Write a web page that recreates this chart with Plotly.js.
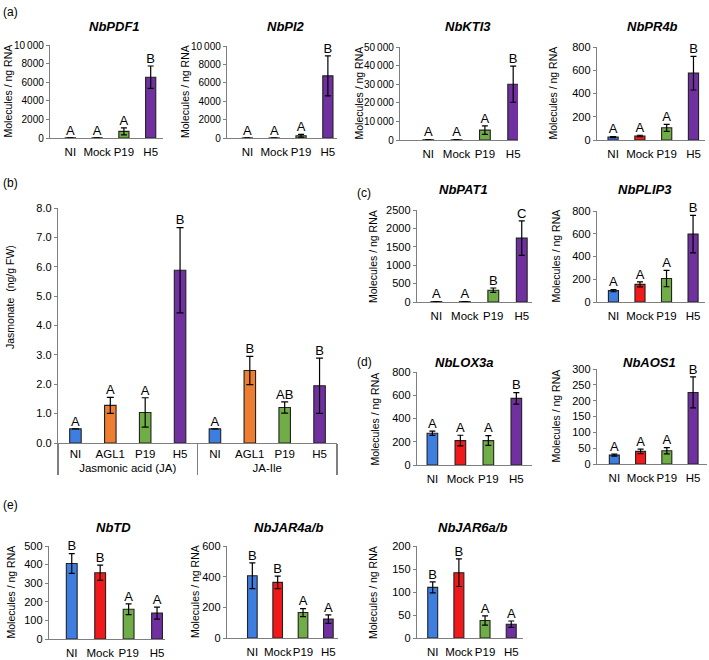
<!DOCTYPE html>
<html><head><meta charset="utf-8">
<script src="https://cdn.plot.ly/plotly-3.0.1.min.js"></script>
<style>html,body{margin:0;padding:0;background:#fff}#chart{width:709px;height:660px}</style>
</head><body><div id="chart"></div>
<script>
// ---------- DATA ----------
const treatments = ['NI', 'Mock', 'P19', 'H5'];
const treatColors = ['#3d7ee0', '#f01a1a', '#70ad47', '#7030a0'];

// (a)
const pdf1Mean = [20, 20, 710, 6540];
const pdf1Err = [5, 5, 370, 1200];
const pdf1Sig = ['A', 'A', 'A', 'B'];
const pi2Mean = [10, 10, 250, 6750];
const pi2Err = [5, 5, 150, 2170];
const pi2Sig = ['A', 'A', 'A', 'B'];
const kti3Mean = [100, 100, 5300, 30000];
const kti3Err = [50, 50, 2300, 9700];
const kti3Sig = ['A', 'A', 'A', 'B'];
const pr4bMean = [25, 35, 105, 575];
const pr4bErr = [5, 6, 30, 145];
const pr4bSig = ['A', 'A', 'A', 'B'];

// (b)
const jaCompounds = ['Jasmonic acid (JA)', 'Jasmonic acid (JA)', 'Jasmonic acid (JA)', 'Jasmonic acid (JA)',
                     'JA-Ile', 'JA-Ile', 'JA-Ile', 'JA-Ile'];
const jaTreatments = ['NI', 'AGL1', 'P19', 'H5', 'NI', 'AGL1', 'P19', 'H5'];
const jaColors = ['#3d7ee0', '#ed7d31', '#70ad47', '#7030a0', '#3d7ee0', '#ed7d31', '#70ad47', '#7030a0'];
const jaMean = [0.48, 1.28, 1.04, 5.88, 0.48, 2.47, 1.21, 1.95];
const jaErr = [0, 0.27, 0.5, 1.45, 0, 0.48, 0.19, 0.94];
const jaSig = ['A', 'A', 'A', 'B', 'A', 'B', 'AB', 'B'];

// (c)
const pat1Mean = [10, 10, 320, 1735];
const pat1Err = [3, 3, 60, 470];
const pat1Sig = ['A', 'A', 'B', 'C'];
const plip3Mean = [100, 155, 206, 597];
const plip3Err = [10, 22, 72, 165];
const plip3Sig = ['A', 'A', 'A', 'B'];

// (d)
const lox3aMean = [273, 210, 210, 573];
const lox3aErr = [18, 46, 42, 50];
const lox3aSig = ['A', 'A', 'A', 'B'];
const aos1Mean = [28, 40, 42, 226];
const aos1Err = [3, 7, 10, 49];
const aos1Sig = ['A', 'A', 'A', 'B'];

// (e)
const tdMean = [406, 356, 160, 139];
const tdErr = [53, 41, 29, 32];
const tdSig = ['B', 'B', 'A', 'A'];
const jar4Mean = [406, 363, 166, 123];
const jar4Err = [84, 41, 26, 28];
const jar4Sig = ['B', 'B', 'A', 'A'];
const jar6Mean = [110, 142, 38, 30];
const jar6Err = [12, 30, 10, 7];
const jar6Sig = ['B', 'B', 'A', 'A'];

// ---------- LAYOUT HELPERS ----------
const W = 709, H = 660;
const fx = p => p / W;
const fy = p => 1 - p / H;
const FONT = 'Liberation Sans, Arial, sans-serif';
const AXC = '#7f7f7f';

const panels = [
  {title: 'NbPDF1', mean: pdf1Mean, err: pdf1Err, sig: pdf1Sig, px: [50, 163], py: [45, 138], xr: [-0.76, 3.46], ymax: 10000, dtick: 2000, tt: [114, 26], yt: 7, tfs: 10},
  {title: 'NbPI2', mean: pi2Mean, err: pi2Err, sig: pi2Sig, px: [227, 337], py: [46, 138], xr: [-0.76, 3.34], ymax: 10000, dtick: 2000, tt: [286, 26], yt: 185, tfs: 10},
  {title: 'NbKTI3', mean: kti3Mean, err: kti3Err, sig: kti3Sig, px: [400, 518], py: [47, 140], xr: [-1.0, 3.17], ymax: 50000, dtick: 10000, tt: [468, 27], yt: 359, tfs: 10},
  {title: 'NbPR4b', mean: pr4bMean, err: pr4bErr, sig: pr4bSig, px: [597, 705], py: [47, 140], xr: [-0.6, 3.43], ymax: 800, dtick: 200, tt: [652, 27], yt: 553, tfs: 11},
  {title: 'NbPAT1', mean: pat1Mean, err: pat1Err, sig: pat1Sig, px: [417, 532], py: [210, 302], xr: [-0.68, 3.36], ymax: 2500, dtick: 500, tt: [463, 189], yt: 373, tfs: 11},
  {title: 'NbPLIP3', mean: plip3Mean, err: plip3Err, sig: plip3Sig, px: [597, 705], py: [211, 302], xr: [-0.62, 3.45], ymax: 800, dtick: 200, tt: [645, 189], yt: 555, tfs: 11},
  {title: 'NbLOX3a', mean: lox3aMean, err: lox3aErr, sig: lox3aSig, px: [417, 532], py: [372, 465], xr: [-0.55, 3.56], ymax: 800, dtick: 200, tt: [464, 362], yt: 375, tfs: 11},
  {title: 'NbAOS1', mean: aos1Mean, err: aos1Err, sig: aos1Sig, px: [597, 707], py: [369, 464], xr: [-0.66, 3.53], ymax: 300, dtick: 50, tt: [649, 362], yt: 555, tfs: 11},
  {title: 'NbTD', mean: tdMean, err: tdErr, sig: tdSig, px: [49, 165], py: [546, 639], xr: [-0.8, 3.28], ymax: 500, dtick: 100, tt: [113, 527], yt: 10, tfs: 11},
  {title: 'NbJAR4a/b', mean: jar4Mean, err: jar4Err, sig: jar4Sig, px: [227, 338], py: [546, 638], xr: [-1.0, 3.38], ymax: 600, dtick: 200, tt: [288, 527], yt: 195, tfs: 11},
  {title: 'NbJAR6a/b', mean: jar6Mean, err: jar6Err, sig: jar6Sig, px: [417, 523], py: [546, 638], xr: [-0.6, 3.45], ymax: 200, dtick: 50, tt: [472, 527], yt: 373, tfs: 11}
];

const traces = [];
const layout = {
  width: W, height: H,
  margin: {l: 0, r: 0, t: 0, b: 0},
  paper_bgcolor: '#fff', plot_bgcolor: 'rgba(0,0,0,0)',
  showlegend: false,
  separators: '.\u2009',
  font: {family: FONT, color: '#000', size: 11},
  annotations: []
};

function axisX(domain, range) {
  return {domain: domain, range: range, showline: true, linecolor: AXC, linewidth: 1.2,
          ticks: 'outside', ticklen: 3, tickcolor: 'rgba(0,0,0,0)', showgrid: false, zeroline: false,
          tickangle: 0,
          tickfont: {size: 11.5, family: FONT, color: '#000'}, fixedrange: true};
}
function axisY(domain, ymax, dtick, fmt, tfs) {
  const a = {domain: domain, range: [0, ymax], dtick: dtick, tick0: 0, showline: true, linecolor: AXC, linewidth: 1.2,
          ticks: 'outside', ticklen: 3, tickcolor: AXC, showgrid: false, zeroline: false,
          exponentformat: 'none',
          tickfont: {size: tfs, family: FONT, color: '#000'}, fixedrange: true};
  if (fmt) a.tickformat = fmt;
  return a;
}

panels.forEach((p, i) => {
  const n = i + 1;
  const xa = 'x' + n, ya = 'y' + n;
  traces.push({
    type: 'bar', x: treatments, y: p.mean, xaxis: xa, yaxis: ya, width: 0.38,
    marker: {color: treatColors, line: {color: '#222', width: 1.1}},
    error_y: {type: 'data', array: p.err, visible: true, color: '#000', thickness: 1.2, width: 3},
    hoverinfo: 'skip'
  });
  traces.push({
    type: 'scatter', mode: 'text', x: treatments, y: p.mean.map((v, k) => v + p.err[k]),
    text: p.sig, textposition: 'top center', cliponaxis: false,
    textfont: {size: 13, family: FONT, color: '#000'},
    xaxis: xa, yaxis: ya, hoverinfo: 'skip'
  });
  layout['xaxis' + n] = Object.assign(axisX([fx(p.px[0]), fx(p.px[1])], p.xr), {anchor: ya, type: 'category'});
  layout['yaxis' + n] = Object.assign(axisY([fy(p.py[1]), fy(p.py[0])], p.ymax, p.dtick, null, p.tfs), {anchor: xa});
  layout.annotations.push({
    text: '<b><i>' + p.title + '</i></b>', xref: 'paper', yref: 'paper',
    x: fx(p.tt[0]), y: fy(p.tt[1]), xanchor: 'center', yanchor: 'middle', showarrow: false,
    font: {size: 13, family: FONT, color: '#000'}
  });
  layout.annotations.push({
    text: 'Molecules / ng RNA', xref: 'paper', yref: 'paper', textangle: -90,
    x: fx(p.yt), y: fy((p.py[0] + p.py[1]) / 2), xanchor: 'center', yanchor: 'middle', showarrow: false,
    font: {size: 10.5, family: FONT, color: '#000'}
  });
});

// panel (b)
const nb = panels.length + 1;
traces.push({
  type: 'bar', x: [jaCompounds, jaTreatments], y: jaMean, xaxis: 'x' + nb, yaxis: 'y' + nb, width: 0.33,
  marker: {color: jaColors, line: {color: '#222', width: 1.1}},
  error_y: {type: 'data', array: jaErr, visible: true, color: '#000', thickness: 1.2, width: 3.5},
  hoverinfo: 'skip'
});
traces.push({
  type: 'scatter', mode: 'text', x: [jaCompounds, jaTreatments], y: jaMean.map((v, k) => v + jaErr[k]),
  text: jaSig, textposition: 'top center', cliponaxis: false,
  textfont: {size: 13, family: FONT, color: '#000'},
  xaxis: 'x' + nb, yaxis: 'y' + nb, hoverinfo: 'skip'
});
layout['xaxis' + nb] = Object.assign(axisX([fx(58), fx(337)], [-0.5, 7.5]),
  {anchor: 'y' + nb, type: 'multicategory', showdividers: true, dividercolor: AXC, dividerwidth: 1.2});
layout['yaxis' + nb] = Object.assign(axisY([fy(443), fy(208)], 8, 1, '.1f', 11), {anchor: 'x' + nb});
layout.annotations.push({
  text: 'Jasmonate  (ng/g FW)', xref: 'paper', yref: 'paper', textangle: -90,
  x: fx(10), y: fy(297), xanchor: 'center', yanchor: 'middle', showarrow: false,
  font: {size: 10.5, family: FONT, color: '#000'}
});

// panel letters
[['(a)', 10, 12], ['(b)', 10, 183], ['(c)', 364, 193], ['(d)', 364, 362], ['(e)', 10, 505]].forEach(l => {
  layout.annotations.push({
    text: l[0], xref: 'paper', yref: 'paper', x: fx(l[1]), y: fy(l[2]),
    xanchor: 'center', yanchor: 'middle', showarrow: false, font: {size: 12, family: FONT, color: '#000'}
  });
});

Plotly.newPlot('chart', traces, layout, {staticPlot: true, displayModeBar: false});
</script>
</body></html>
